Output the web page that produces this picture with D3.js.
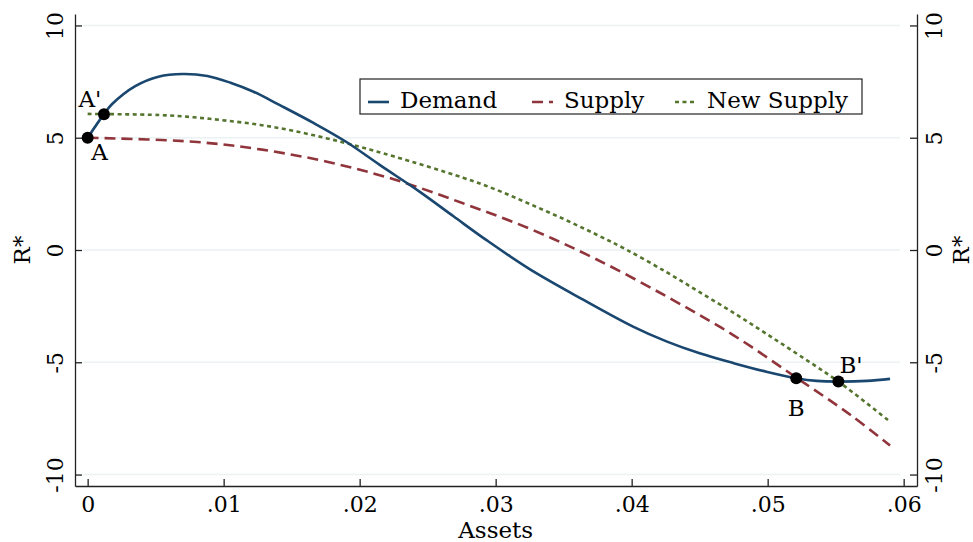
<!DOCTYPE html>
<html lang="en">
<head>
    <meta charset="UTF-8">
    <title>R* - Demand and Supply of Assets</title>
    <script src="https://d3js.org/d3.v7.min.js"></script>
    <style>
        body { margin: 0; background: #fff; }
        text { font-family: "DejaVu Serif", serif; fill: #000; }
    </style>
</head>
<body>
    <div id="chart-container"></div>

    <script>
        // Demand curve (assets, R*)
        const demandAssets = [0, .0012, .0018, .0035, .0052, .0070, .0088, .0105, .0122, .0141, .0166, .0190,
                              .0215, .0244, .0269, .0293, .0325, .0364, .0401, .0426, .0450, .0475,
                              .0499, .0521, .0536, .0552, .0573, .0590];
        const demandR = [5.0, 6.05, 6.5, 7.3, 7.72, 7.84, 7.75, 7.45, 7.05, 6.46, 5.66, 4.82,
                         3.78, 2.60, 1.50, 0.45, -0.85, -2.2, -3.41, -4.08, -4.60, -5.04,
                         -5.42, -5.71, -5.83, -5.86, -5.83, -5.74];

        // Supply curve
        const supplyAssets = [0, .0078, .0127, .0176, .0225, .0276, .0325, .0372, .0426, .0475, .0521, .0561, .0590];
        const supplyR = [5.0, 4.82, 4.48, 3.93, 3.15, 2.08, 0.95, -0.35, -2.08, -3.8, -5.68, -7.35, -8.71];

        // New supply curve
        const newSupplyAssets = [0, .0053, .0078, .0102, .0127, .0151, .0176, .0200, .0225, .0276, .0301,
                                 .0325, .0350, .0374, .0396, .0426, .0450, .0475, .0499, .0524, .0552, .0589];
        const newSupplyR = [6.06, 6.01, 5.91, 5.76, 5.57, 5.31, 4.97, 4.60, 4.17, 3.22, 2.67,
                            2.05, 1.38, 0.69, 0.02, -1.0, -1.88, -2.8, -3.73, -4.72, -5.86, -7.6];

        // Equilibrium points and their labels
        const pointNames = ["A", "A'", "B", "B'"];
        const pointAssets = [0, .0012, .0521, .0552];
        const pointR = [5.0, 6.05, -5.71, -5.86];

        const yTicks = [-10, -5, 0, 5, 10];
        const xTicks = [0, .01, .02, .03, .04, .05, .06];
        const legendNames = ["Demand", "Supply", "New Supply"];

        const width = 973;
        const height = 542;
        const plotLeft = 75, plotRight = 917, plotTop = 14, plotBottom = 486;

        const colors = ["#1a476f", "#90353b", "#55752f"];
        const dashes = [null, "11,6", "4,3.5"];

        const svg = d3.select("#chart-container")
            .append("svg")
            .attr("width", width)
            .attr("height", height);

        const xScale = d3.scaleLinear()
            .domain([-0.00093, 0.06098])
            .range([plotLeft, plotRight]);
        const yScale = d3.scaleLinear()
            .domain([-10.51, 10.51])
            .range([plotBottom, plotTop]);

        // gridlines
        svg.selectAll("line.grid")
            .data(yTicks)
            .enter()
            .append("line")
            .attr("class", "grid")
            .attr("x1", plotLeft + 8)
            .attr("x2", plotRight - 17)
            .attr("y1", d => yScale(d))
            .attr("y2", d => yScale(d))
            .attr("stroke", "#eaf2f3")
            .attr("stroke-width", 1.5);

        // axes (ticks point inward)
        const styleAxis = g => {
            g.select(".domain").attr("stroke", "#222").attr("stroke-width", 1.3);
            g.selectAll(".tick line").attr("stroke", "#222").attr("stroke-width", 1.3);
            g.selectAll(".tick text").remove();
        };

        const leftAxis = svg.append("g")
            .attr("transform", `translate(${plotLeft}, 0)`)
            .call(d3.axisLeft(yScale).tickValues(yTicks).tickSize(-7).tickSizeOuter(0))
            .call(styleAxis);
        const rightAxis = svg.append("g")
            .attr("transform", `translate(${plotRight}, 0)`)
            .call(d3.axisRight(yScale).tickValues(yTicks).tickSize(-7).tickSizeOuter(0))
            .call(styleAxis);
        const xAxis = svg.append("g")
            .attr("transform", `translate(0, ${plotBottom})`)
            .call(d3.axisBottom(xScale).tickValues(xTicks).tickSize(-7).tickSizeOuter(0))
            .call(styleAxis);

        // rotated y tick labels on both sides
        [[leftAxis, -12], [rightAxis, 25]].forEach(([g, bx]) => {
            g.selectAll(".tick")
                .append("text")
                .attr("x", bx)
                .attr("y", 0)
                .attr("transform", `rotate(-90, ${bx}, 0)`)
                .attr("text-anchor", "middle")
                .attr("font-size", "22px")
                .attr("fill", "#000")
                .text(d => d);
        });

        xAxis.selectAll(".tick")
            .append("text")
            .attr("y", 26)
            .attr("text-anchor", "middle")
            .attr("font-size", "22px")
            .attr("fill", "#000")
            .text(d => d === 0 ? "0" : d3.format(".2f")(d).replace(/^0/, ""));

        // axis titles
        svg.append("text")
            .attr("transform", `translate(30, ${yScale(0)}) rotate(-90)`)
            .attr("text-anchor", "middle")
            .attr("font-size", "23px")
            .text("R*");
        svg.append("text")
            .attr("transform", `translate(969, ${yScale(0)}) rotate(-90)`)
            .attr("text-anchor", "middle")
            .attr("font-size", "23px")
            .text("R*");
        svg.append("text")
            .attr("x", (xScale(0) + xScale(0.06)) / 2)
            .attr("y", 538)
            .attr("text-anchor", "middle")
            .attr("font-size", "23px")
            .text("Assets");

        // curves
        const series = [
            d3.zip(demandAssets, demandR),
            d3.zip(supplyAssets, supplyR),
            d3.zip(newSupplyAssets, newSupplyR)
        ];
        const line = d3.line()
            .x(d => xScale(d[0]))
            .y(d => yScale(d[1]))
            .curve(d3.curveCatmullRom.alpha(0.5));

        // draw new supply first so demand sits on top
        [2, 1, 0].forEach(i => {
            svg.append("path")
                .datum(series[i])
                .attr("d", line)
                .attr("fill", "none")
                .attr("stroke", colors[i])
                .attr("stroke-width", 2.6)
                .attr("stroke-dasharray", dashes[i]);
        });

        // points
        const points = d3.zip(pointNames, pointAssets, pointR);
        svg.selectAll("circle.pt")
            .data(points)
            .enter()
            .append("circle")
            .attr("class", "pt")
            .attr("cx", d => xScale(d[1]))
            .attr("cy", d => yScale(d[2]))
            .attr("r", 6)
            .attr("fill", "#000");

        // label offsets (dx, dy, anchor)
        const labelPos = {"A": [12, 22, "middle"], "A'": [-14, -7, "middle"], "B": [0, 38, "middle"], "B'": [1, -9, "start"]};
        svg.selectAll("text.pt")
            .data(points)
            .enter()
            .append("text")
            .attr("class", "pt")
            .attr("x", d => xScale(d[1]) + labelPos[d[0]][0])
            .attr("y", d => yScale(d[2]) + labelPos[d[0]][1])
            .attr("text-anchor", d => labelPos[d[0]][2])
            .attr("font-size", "23px")
            .text(d => d[0]);

        // legend
        const legend = svg.append("g");
        legend.append("rect")
            .attr("x", 360)
            .attr("y", 79)
            .attr("width", 502)
            .attr("height", 35)
            .attr("fill", "#fff")
            .attr("stroke", "#222")
            .attr("stroke-width", 1.2);
        const legendX = [368, 532, 675];
        legendNames.forEach((name, i) => {
            legend.append("line")
                .attr("x1", legendX[i])
                .attr("x2", legendX[i] + 21)
                .attr("y1", 102)
                .attr("y2", 102)
                .attr("stroke", colors[i])
                .attr("stroke-width", 2.6)
                .attr("stroke-dasharray", dashes[i]);
            legend.append("text")
                .attr("x", legendX[i] + 32)
                .attr("y", 108)
                .attr("font-size", "23px")
                .text(name);
        });
    </script>
</body>
</html>
